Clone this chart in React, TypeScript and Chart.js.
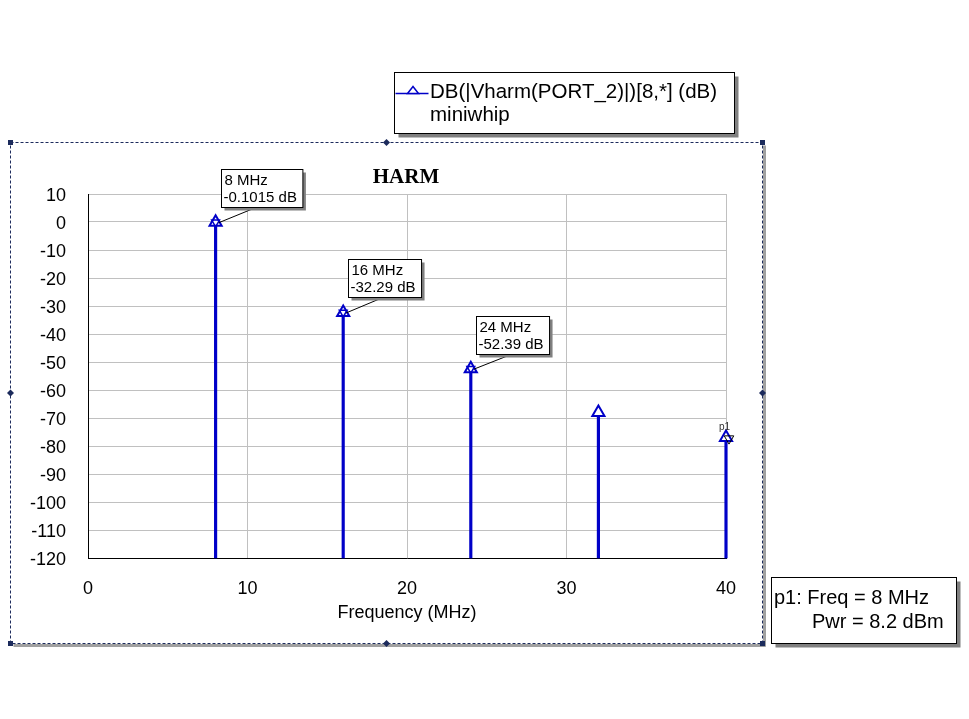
import React, { useEffect, useRef } from 'react';
import { Chart, registerables } from 'chart.js';

Chart.register(...registerables);

// ---- data ----
const freqsMHz = [8, 16, 24, 32, 40];
const levelsDb = [-0.1015, -32.29, -52.39, -68, -77];
const labeledIdx = [0, 1, 2];
const markerIdx = 4;
const yMin = -120;
const yMax = 10;
const yStep = 10;
const xMin = 0;
const xMax = 40;
const xStep = 10;
const seriesLabel = 'DB(|Vharm(PORT_2)|)[8,*] (dB)';
const seriesSub = 'miniwhip';
const chartTitle = 'HARM';
const xTitle = 'Frequency (MHz)';
const markerName = 'p1';
const markerLines = ['p1: Freq = 8 MHz', 'Pwr = 8.2 dBm'];

const BLUE = '#0000c8';
const NAVY = '#1c2b5c';
const SANS = '"Liberation Sans", Arial, sans-serif';

function drawTriangle(ctx: CanvasRenderingContext2D, x: number, y: number, r: number, down: boolean) {
  const s = down ? -1 : 1;
  ctx.beginPath();
  ctx.moveTo(x, y - s * r);
  ctx.lineTo(x + r * 0.866, y + s * r / 2);
  ctx.lineTo(x - r * 0.866, y + s * r / 2);
  ctx.closePath();
}

const chromePlugin = {
  id: 'chrome',
  beforeDraw(chart: any) {
    const ctx: CanvasRenderingContext2D = chart.ctx;
    ctx.save();
    ctx.fillStyle = '#ffffff';
    ctx.fillRect(0, 0, chart.width, chart.height);
    // outer dashed frame
    const L = 10.5, T = 142.5, R = 762.5, B = 643.5;
    ctx.fillStyle = '#a0a0a0';
    ctx.fillRect(R + 0.5, T + 3, 3, B - T);
    ctx.fillRect(L + 3, B + 0.5, R - L, 3);
    ctx.strokeStyle = NAVY;
    ctx.lineWidth = 1;
    ctx.setLineDash([3, 2]);
    ctx.strokeRect(L, T, R - L, B - T);
    ctx.setLineDash([]);
    ctx.fillStyle = NAVY;
    for (const [cx, cy] of [[L, T], [R, T], [L, B], [R, B]]) {
      ctx.fillRect(cx - 2.5, cy - 2.5, 5, 5);
    }
    const mx = (L + R) / 2, my = (T + B) / 2;
    for (const [cx, cy] of [[mx, T], [mx, B], [L, my], [R, my]]) {
      ctx.beginPath();
      ctx.moveTo(cx, cy - 3.5);
      ctx.lineTo(cx + 3.5, cy);
      ctx.lineTo(cx, cy + 3.5);
      ctx.lineTo(cx - 3.5, cy);
      ctx.closePath();
      ctx.fill();
    }
    ctx.restore();
  },
  afterDraw(chart: any) {
    const ctx: CanvasRenderingContext2D = chart.ctx;
    const xs = chart.scales.x;
    const ys = chart.scales.y;
    const area = chart.chartArea;
    ctx.save();

    // title
    ctx.fillStyle = '#000';
    ctx.font = 'bold 21px "Liberation Serif", "Times New Roman", serif';
    ctx.textAlign = 'center';
    ctx.textBaseline = 'alphabetic';
    ctx.fillText(chartTitle, (area.left + area.right) / 2 - 1, 183);

    // data annotations
    ctx.font = `15px ${SANS}`;
    ctx.textAlign = 'left';
    for (const i of labeledIdx) {
      const px = xs.getPixelForValue(freqsMHz[i]);
      const py = ys.getPixelForValue(levelsDb[i]);
      const l1 = `${freqsMHz[i]} MHz`;
      const l2 = `${levelsDb[i]} dB`;
      const w = Math.max(ctx.measureText(l1).width, ctx.measureText(l2).width) + 8;
      const h = 38;
      const bx = Math.round(px + 5) + 0.5;
      const by = Math.round(py - 53) + 0.5;
      // leader
      ctx.strokeStyle = '#000';
      ctx.lineWidth = 1;
      ctx.beginPath();
      ctx.moveTo(bx + 32, by + h + 1);
      ctx.lineTo(px + 3, py + 0.5);
      ctx.stroke();
      // shadow + box
      ctx.fillStyle = '#808080';
      ctx.fillRect(bx + 3, by + 3, w, h);
      ctx.fillStyle = '#fff';
      ctx.fillRect(bx, by, w, h);
      ctx.strokeRect(bx, by, w, h);
      ctx.fillStyle = '#000';
      ctx.fillText(l1, bx + 3, by + 15);
      ctx.fillText(l2, bx + 2, by + 32);
    }

    // p1 marker
    {
      const px = xs.getPixelForValue(freqsMHz[markerIdx]);
      const py = ys.getPixelForValue(levelsDb[markerIdx]);
      ctx.strokeStyle = '#000';
      ctx.lineWidth = 1;
      drawTriangle(ctx, px + 3, py + 1, 5.5, true);
      ctx.stroke();
      ctx.fillStyle = '#333';
      ctx.font = `10px ${SANS}`;
      ctx.textAlign = 'left';
      ctx.fillText(markerName, px - 7, py - 8);
    }

    // legend box
    {
      const bx = 394.5, by = 72.5, w = 340, h = 61;
      ctx.fillStyle = '#808080';
      ctx.fillRect(bx + 4, by + 4, w, h);
      ctx.fillStyle = '#fff';
      ctx.fillRect(bx, by, w, h);
      ctx.strokeStyle = '#000';
      ctx.lineWidth = 1;
      ctx.strokeRect(bx, by, w, h);
      ctx.strokeStyle = BLUE;
      ctx.lineWidth = 1.5;
      ctx.beginPath();
      ctx.moveTo(bx + 1, 93.5);
      ctx.lineTo(bx + 34, 93.5);
      ctx.stroke();
      ctx.fillStyle = '#fff';
      ctx.beginPath();
      ctx.moveTo(413, 86.5);
      ctx.lineTo(418.5, 93.5);
      ctx.lineTo(407.5, 93.5);
      ctx.closePath();
      ctx.fill();
      ctx.stroke();
      ctx.fillStyle = '#000';
      ctx.font = `20.5px ${SANS}`;
      ctx.textAlign = 'left';
      ctx.fillText(chart.data.datasets[0].label, 430, 98);
      ctx.fillText(seriesSub, 430, 121);
    }

    // marker readout box
    {
      const bx = 771.5, by = 577.5, w = 185, h = 66;
      ctx.fillStyle = '#808080';
      ctx.fillRect(bx + 4, by + 4, w, h);
      ctx.fillStyle = '#fff';
      ctx.fillRect(bx, by, w, h);
      ctx.strokeStyle = '#000';
      ctx.lineWidth = 1;
      ctx.strokeRect(bx, by, w, h);
      ctx.fillStyle = '#000';
      ctx.font = `20px ${SANS}`;
      ctx.fillText(markerLines[0], 774, 604);
      ctx.fillText(markerLines[1], 812, 628);
    }
    ctx.restore();
  },
};

export default function App() {
  const ref = useRef<HTMLCanvasElement | null>(null);
  useEffect(() => {
    if (!ref.current) return;
    const stems = freqsMHz.map((f, i) => ({ x: f, y: [yMin, levelsDb[i]] }));
    const points = freqsMHz.map((f, i) => ({ x: f, y: levelsDb[i] }));
    const labeledPts = labeledIdx.map((i) => ({ x: freqsMHz[i], y: levelsDb[i] }));
    const chart = new Chart(ref.current, {
      type: 'scatter',
      data: {
        datasets: [
          {
            type: 'scatter',
            label: seriesLabel,
            data: points,
            pointStyle: 'triangle',
            radius: 7,
            borderColor: BLUE,
            backgroundColor: '#ffffff',
            borderWidth: 2,
            clip: false,
            order: 0,
          } as any,
          {
            type: 'scatter',
            label: 'marks',
            data: labeledPts,
            pointStyle: 'triangle',
            rotation: 180,
            radius: 4.5,
            borderColor: BLUE,
            backgroundColor: 'rgba(0,0,0,0)',
            borderWidth: 1.5,
            clip: false,
            order: -1,
          } as any,
          {
            type: 'bar',
            label: 'stems',
            data: stems,
            backgroundColor: BLUE,
            borderWidth: 0,
            barThickness: 2.5,
            clip: false,
            order: 1,
          } as any,
        ],
      },
      options: {
        responsive: false,
        animation: false,
        devicePixelRatio: 1,
        layout: { padding: { left: 0, top: 194, right: 243, bottom: 95 } },
        plugins: {
          legend: { display: false },
          title: { display: false },
          tooltip: { enabled: false },
        },
        scales: {
          x: {
            type: 'linear',
            min: xMin,
            max: xMax,
            offset: false,
            grid: { color: '#c0c0c0', drawTicks: false, offset: false },
            border: { color: '#000', width: 1 },
            ticks: {
              stepSize: xStep,
              color: '#000',
              padding: 20,
              font: { family: SANS, size: 18 },
              maxRotation: 0,
            },
            title: {
              display: true,
              text: xTitle,
              color: '#000',
              padding: 0,
              font: { family: SANS, size: 18 },
            },
            afterFit: (s: any) => {
              s.height = 66;
            },
          },
          y: {
            type: 'linear',
            min: yMin,
            max: yMax,
            grid: { color: '#c0c0c0', drawTicks: false },
            border: { color: '#000', width: 1 },
            ticks: {
              stepSize: yStep,
              color: '#000',
              padding: 22,
              labelOffset: 2,
              font: { family: SANS, size: 18 },
            },
            afterFit: (s: any) => {
              s.width = 88;
            },
          },
        },
      } as any,
      plugins: [chromePlugin as any],
    });
    return () => chart.destroy();
  }, []);
  return (
    <div style={{ position: 'absolute', left: 0, top: 0, width: 969, height: 719 }}>
      <canvas ref={ref} width={969} height={719} />
    </div>
  );
}
